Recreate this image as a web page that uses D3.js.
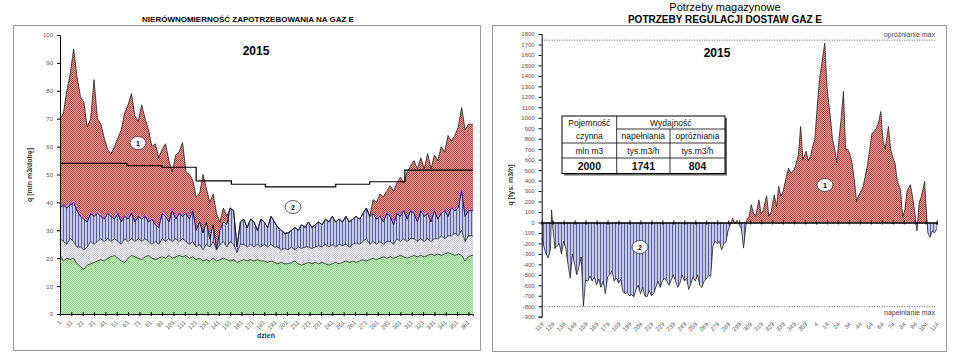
<!DOCTYPE html>
<html><head><meta charset="utf-8">
<script src="https://cdn.jsdelivr.net/npm/d3@7"></script>
<style>body{margin:0;background:#fff}svg{display:block;font-family:"Liberation Sans",Arial,sans-serif}</style>
</head><body><svg id="c" width="960" height="360"></svg>
<script>
// ---------- LEFT CHART DATA (every 3rd day, last = day 365) ----------
const leftDays = d3.range(1, 365, 3).concat([365]);
const demand = [
 70,72,80,86,95,85,78,76,67,70,
 84,70,68,63,59,57.5,60,63,66,72,
 75,79,71,69,75,70,66,60,61,56,
 59,61,55,51,57,58,61.5,51,50,48,
 42,43,50,45,40,43,36,33,38,35,
 38,37,24,33,34,31,34,33,30,34,
 33,31,35,33,31,30,29,29,30,31,
 30,32,31,33,31,32,33,32,34,33,
 35,33,34,33,35,33,34,35,34,36,
 38,35,41,40,43,42,44,46,44,47,
 49,47,51,53,55,52,56,52,57.5,52,
 57,55,60,58,64,62,64,67,74,66,
 68,68,68];
const blueTop = [
 38,39,38,39,40,37,35,34,33,36,
 35,36,35,34,36,35,34,36,33,35,
 34,36,33,35,34,35,33,34,32,31,
 36,35,33,37,34,36,35,36,34,37,
 30,33,29,33,27,32,23,30,33,32,
 38,37,24,33,34,31,34,33,30,34,
 33,31,35,33,31,30,29,29,30,31,
 30,32,31,33,31,32,33,32,34,33,
 35,33,34,33,35,33,34,35,34,36,
 38,35,36,34,35,33,36,35,32,36,
 35,37,34,37,36,33,37,35,36,33,
 37,34,36,37,35,38,37,38,44,35,
 37,37,37];
const greyTop = [
 27,26,25,27,26,24,24,23,24,26,
 25,26,27,26,27,26,27,26,25,27,
 26,27,26,27,26,27,26,25,26,25,
 27,26,27,26,27,26,27,26,25,26,
 24,25,23,25,24,26,23,25,26,24,
 26,25,22,25,25,24,25,24,25,24,
 25,24,25,24,24,23,23.5,23,24,23,
 24,23.5,24,24,23.5,24,24.5,24,25,24,
 25,24,25,24.5,25,24,25,25.5,25,26,
 27,25,26,25,26,25,26,26,25,27,
 26,27,26,27,27,26,27,26,27,26,
 27,27,28,27,28,28,29,28,30,26,
 28,28,28];
const greenTop = [
 21,19,20,19.5,20,18,17,16,17.5,18,
 18.5,19,19.5,19,20,20.5,21,20,19,18.5,
 20,21,20.5,20,19.5,20.5,21,20,19.5,20,
 20.5,20,21,20,20.5,21,20.5,21,20,20.5,
 19.5,20,19,19.5,19,20,19,19.5,20,19.5,
 19,19.5,18.5,19,19.5,19,19.5,19,19.5,19,
 19,18.5,19,18.5,18,18.5,18,18,18.5,19,
 18,17.5,18,18.5,18,18.5,18,18.5,18,17.5,
 18,18.5,18,18.5,19,18.5,19,18.5,19,19.5,
 19,19.5,20,19.5,20,20.5,20,20.5,20,20.5,
 21,20.5,20,20.5,21,20.5,21,20.5,21,21.5,
 21,21.5,21,21.5,22,21.5,21,21.5,21,19,
 20.5,21,21];
// monthly contracted supply (step line)
const monthStart = [1,32,60,91,121,152,182,213,244,274,305,335,365];
const monthSupply = [54,54,53.2,52.6,47.7,46.5,45.6,45.6,46.5,47.4,51.6,51.6,51.6];
const leftYTicks = [0,10,20,30,40,50,60,70,80,90,100];
const leftXTicks = [1,11,21,31,41,51,61,71,81,91,101,111,121,131,141,151,161,171,181,191,201,211,221,231,241,251,261,271,281,291,301,311,321,331,341,351,361];

// ---------- RIGHT CHART DATA ----------
const regDay = [
 0,2,4,6,8,9,10,12,14,16,
 18,20,22,24,26,28,30,32,34,36,
 38,40,42,44,46,48,50,52,54,56,
 58,60,62,64,66,68,70,72,74,76,
 78,80,82,84,86,88,90,92,94,96,
 98,100,102,104,106,108,110,112,114,116,
 118,120,122,124,126,128,130,132,134,136,
 138,140,142,144,146,148,150,152,154,156,
 158,160,162,164,166,168,170,172,174,176,
 178,180,182,184,186,187,189,191,193,195,
 198,200,202,205,207,209,212,214,216,218,
 220,223,225,227,230,232,234,236,238,241,
 243,245,247,249,251,253,255,258,260,261,
 263,265,267,269,271,273,275,277,279,281,
 283,285,287,289,291,293,295,297,299,301,
 303,305,307,309,311,313,316,318,320,322,
 324,327,329,331,333,336,338,340,342,344,
 346,349,350,352,354,356,358,360];
const regValue = [
 -150,-230,-300,-340,-250,120,-30,-250,-220,-200,
 -300,-180,-250,-400,-530,-300,-400,-500,-420,-330,
 -800,-550,-560,-510,-560,-520,-600,-540,-620,-560,
 -680,-520,-500,-460,-560,-530,-580,-540,-660,-680,
 -670,-700,-690,-710,-640,-600,-680,-620,-700,-710,
 -650,-700,-680,-620,-560,-620,-560,-530,-560,-600,
 -550,-500,-560,-620,-580,-500,-560,-530,-640,-580,
 -520,-560,-500,-600,-620,-560,-540,-500,-515,-230,
 -180,-200,-180,-260,-200,-185,-70,-20,40,-10,
 20,-20,-60,-245,-40,25,60,170,90,60,
 216,80,120,255,60,100,264,150,344,250,
 296,440,520,470,500,567,650,917,600,680,
 590,630,726,800,1092,1347,1500,1713,1300,1200,
 1012,800,700,567,800,1000,1251,694,700,646,
 560,400,200,260,300,344,450,550,700,853,
 870,900,949,1060,790,700,917,700,620,567,
 400,312,50,121,300,360,248,100,-80,185,
 250,392,200,-100,-140,-80,-100,-60];
const rightYTicks = [-900,-800,-700,-600,-500,-400,-300,-200,-100,0,100,200,300,400,500,600,700,800,900,1000,1100,1200,1300,1400,1500,1600,1700,1800];
const rightXTicks = d3.range(0, 361, 10);
const rightXLabels = [119,129,139,149,159,169,179,189,199,209,219,229,239,249,259,269,279,289,299,309,319,329,339,349,359,4,14,24,34,44,54,64,74,84,94,104,114];
const maxEmpty = 1741, maxFill = -804;
const tableHead = ["Pojemność","czynna","Wydajność","napełniania","opróżniania"];
const tableUnits = ["mln m3","tys.m3/h","tys.m3/h"];
const tableValues = ["2000","1741","804"];

// ---------- DRAW ----------
const svg = d3.select('#c');
const defs = svg.append('defs');
function checker(id, a, b){
  const p = defs.append('pattern').attr('id',id).attr('width',2).attr('height',2).attr('patternUnits','userSpaceOnUse');
  p.append('rect').attr('width',2).attr('height',2).attr('fill',b);
  p.append('rect').attr('width',1).attr('height',1).attr('fill',a);
  p.append('rect').attr('x',1).attr('y',1).attr('width',1).attr('height',1).attr('fill',a);
}
function stripes(id, dark, light, w){
  const p = defs.append('pattern').attr('id',id).attr('width',w).attr('height',4).attr('patternUnits','userSpaceOnUse');
  p.append('rect').attr('width',w).attr('height',4).attr('fill',light);
  p.append('rect').attr('width',1).attr('height',4).attr('fill',dark);
}
checker('pRed','#b84c4a','#eb9a94');
checker('pGreen','#8ed487','#c8f2c2');
checker('pGrey','#c8c8d6','#f4f4f8');
stripes('pBlue','#5c629e','#c6cae8',3);

// frames
svg.append('rect').attr('x',13.5).attr('y',25.5).attr('width',467).attr('height',325).attr('fill','#fff').attr('stroke','#9a9a9a');
svg.append('rect').attr('x',492.5).attr('y',25.5).attr('width',454).attr('height',326).attr('fill','#fff').attr('stroke','#9a9a9a');

// ===== LEFT =====
const xL = d3.scaleLinear([1,365],[60,473]);
const yL = d3.scaleLinear([0,100],[314,35]);
const gL = svg.append('g');
const areaL = d3.area().x((d,i)=>xL(leftDays[i])).y0(yL(0)).y1(d=>yL(d));
const lineL = d3.line().x((d,i)=>xL(leftDays[i])).y(d=>yL(d));
gL.append('path').datum(demand).attr('d',areaL).attr('fill','url(#pRed)');
gL.append('path').datum(blueTop).attr('d',areaL).attr('fill','url(#pBlue)');
gL.append('path').datum(greyTop).attr('d',areaL).attr('fill','url(#pGrey)');
gL.append('path').datum(greenTop).attr('d',areaL).attr('fill','url(#pGreen)');
// pink band along the blue top in heating season
gL.append('path').datum(blueTop).attr('d', d3.line().defined((d,i)=>leftDays[i]<=118||leftDays[i]>=280).x((d,i)=>xL(leftDays[i])).y(d=>yL(d)-1.2))
  .attr('fill','none').attr('stroke','#c868d8').attr('stroke-width',1.3);
gL.append('path').datum(greenTop).attr('d',lineL).attr('fill','none').attr('stroke','#1c301c').attr('stroke-width',0.8);
gL.append('path').datum(greyTop).attr('d',lineL).attr('fill','none').attr('stroke','#2a2a44').attr('stroke-width',0.8);
gL.append('path').datum(blueTop).attr('d',lineL).attr('fill','none').attr('stroke','#1a1a50').attr('stroke-width',1);
gL.append('path').datum(demand).attr('d',lineL).attr('fill','none').attr('stroke','#202020').attr('stroke-width',0.8);
gL.append('path').datum(monthSupply).attr('d', d3.line().curve(d3.curveStepAfter).x((d,i)=>xL(monthStart[i])).y(d=>yL(d)))
  .attr('fill','none').attr('stroke','#000').attr('stroke-width',1.2);
// axes
const ayL = gL.append('g').attr('transform','translate(60,0)').call(d3.axisLeft(yL).tickValues(leftYTicks).tickSize(3).tickPadding(4).tickFormat(d=>String(d)));
const axL = gL.append('g').attr('transform','translate(0,314)').call(d3.axisBottom(xL).tickValues(leftXTicks).tickSize(2).tickFormat((d,i)=>String(leftXTicks[i])));
axL.selectAll('.tick line').attr('y1',-2).attr('y2',2);
axL.selectAll('.tick text').attr('y',0).attr('dy',0).attr('text-anchor','end').attr('transform','translate(1,9) rotate(-45)');
[ayL,axL].forEach(a=>{a.selectAll('text').attr('font-size',6).attr('fill','#555').attr('font-family','Liberation Sans, Arial');a.select('.domain').attr('stroke','#000');a.selectAll('.tick line').attr('stroke','#000');});
// texts
svg.append('text').attr('x',248).attr('y',22).attr('text-anchor','middle').attr('font-size',8).attr('font-weight','bold').text('NIERÓWNOMIERNOŚĆ ZAPOTRZEBOWANIA NA GAZ E');
svg.append('text').attr('x',256).attr('y',55).attr('text-anchor','middle').attr('font-size',12).attr('font-weight','bold').text('2015');
svg.append('text').attr('x',266).attr('y',338).attr('text-anchor','middle').attr('font-size',7).attr('font-weight','bold').attr('fill','#333').text('dzień');
svg.append('text').attr('transform','translate(32,175) rotate(-90)').attr('text-anchor','middle').attr('font-size',7).attr('font-weight','bold').attr('fill','#333').text('q [mln m3/dobę]');
function badge(x,y,t){
  svg.append('ellipse').attr('cx',x).attr('cy',y).attr('rx',8).attr('ry',6.5).attr('fill','#fff').attr('stroke','#333').attr('stroke-width',0.8);
  svg.append('text').attr('x',x).attr('y',y+2.5).attr('text-anchor','middle').attr('font-size',7).attr('font-weight','bold').text(t);
}
badge(138,143,'1');
badge(293,207,'2');

// ===== RIGHT =====
const xR = d3.scaleLinear([0,360],[541.7,936.7]);
const yR = d3.scaleLinear([-900,1800],[316.7,34]);
const gR = svg.append('g');
defs.append('clipPath').attr('id','cPos').append('rect').attr('x',530).attr('y',0).attr('width',420).attr('height',yR(0));
defs.append('clipPath').attr('id','cNeg').append('rect').attr('x',530).attr('y',yR(0)).attr('width',420).attr('height',200);
const areaR = d3.area().x((d,i)=>xR(regDay[i])).y0(yR(0)).y1(d=>yR(d));
gR.append('path').datum(regValue).attr('d',areaR).attr('fill','url(#pRed)').attr('clip-path','url(#cPos)');
gR.append('path').datum(regValue).attr('d',areaR).attr('fill','url(#pBlue)').attr('clip-path','url(#cNeg)');
gR.append('path').datum(regValue).attr('d',d3.line().x((d,i)=>xR(regDay[i])).y(d=>yR(d))).attr('fill','none').attr('stroke','#222').attr('stroke-width',0.8);
// max lines
[maxEmpty,maxFill].forEach(v=>gR.append('line').attr('x1',541.7).attr('x2',936.7).attr('y1',yR(v)).attr('y2',yR(v)).attr('stroke','#333').attr('stroke-width',0.8).attr('stroke-dasharray','1,1.5'));
svg.append('text').attr('x',935).attr('y',yR(maxEmpty)-3).attr('text-anchor','end').attr('font-size',7).attr('fill','#444').text('opróżnianie max');
svg.append('text').attr('x',935).attr('y',yR(maxFill)+8).attr('text-anchor','end').attr('font-size',7).attr('fill','#444').text('napełnianie max');
// zero axis
const axR = gR.append('g').attr('transform',`translate(0,${yR(0)})`).call(d3.axisBottom(xR).tickValues(rightXTicks).tickSize(2).tickFormat(''));
axR.selectAll('.tick line').attr('y1',-2).attr('y2',2).attr('stroke','#000');
axR.select('.domain').attr('stroke','#000').attr('stroke-width',1.5);
const axR2 = gR.append('g').attr('transform',`translate(0,${yR(-900)})`).call(d3.axisBottom(xR).tickValues(rightXTicks).tickSize(0).tickFormat((d,i)=>String(rightXLabels[i])));
axR2.select('.domain').remove();
axR2.selectAll('.tick text').attr('y',0).attr('dy',0).attr('text-anchor','end').attr('transform','translate(2,8) rotate(-45)').attr('font-size',6).attr('fill','#555');
const ayR = gR.append('g').attr('transform','translate(541.7,0)').call(d3.axisLeft(yR).tickValues(rightYTicks).tickSize(3).tickPadding(4).tickFormat(d=>String(d)));
ayR.selectAll('text').attr('font-size',6).attr('fill','#555');
ayR.select('.domain').attr('stroke','#000');
ayR.selectAll('.tick line').attr('stroke','#000');
svg.append('text').attr('x',725).attr('y',11).attr('text-anchor','middle').attr('font-size',11).text('Potrzeby magazynowe');
svg.append('text').attr('x',725).attr('y',23).attr('text-anchor','middle').attr('font-size',10).attr('font-weight','bold').text('POTRZEBY REGULACJI DOSTAW GAZ E');
svg.append('text').attr('x',717).attr('y',57).attr('text-anchor','middle').attr('font-size',12).attr('font-weight','bold').text('2015');
svg.append('text').attr('transform','translate(513,185) rotate(-90)').attr('text-anchor','middle').attr('font-size',7).attr('font-weight','bold').attr('fill','#333').text('q [tys. m3/h]');
badge(825,185,'1');
badge(640,247,'2');

// table
const T = {x0:562, x1:616.7, x2:670, x3:725, y0:116, y1:129, y2:143, y3:158, y4:173.5};
const gt = svg.append('g');
gt.append('rect').attr('x',T.x0+2).attr('y',T.y0+2).attr('width',T.x3-T.x0).attr('height',T.y4-T.y0).attr('fill','#666');
gt.append('rect').attr('x',T.x0).attr('y',T.y0).attr('width',T.x3-T.x0).attr('height',T.y4-T.y0).attr('fill','#fff').attr('stroke','#000').attr('stroke-width',1);
const tl = (x1,y1,x2,y2)=>gt.append('line').attr('x1',x1).attr('y1',y1).attr('x2',x2).attr('y2',y2).attr('stroke','#000').attr('stroke-width',0.8);
tl(T.x1,T.y0,T.x1,T.y4); tl(T.x2,T.y1,T.x2,T.y4);
tl(T.x1,T.y1,T.x3,T.y1); tl(T.x0,T.y2,T.x3,T.y2); tl(T.x0,T.y3,T.x3,T.y3);
const tt = (x,y,s,t,b)=>gt.append('text').attr('x',x).attr('y',y).attr('text-anchor','middle').attr('font-size',s).attr('font-weight',b?'bold':'normal').attr('fill','#111').text(t);
const c0=(T.x0+T.x1)/2, c1=(T.x1+T.x2)/2, c2=(T.x2+T.x3)/2;
tt(c0,125.5,8.5,tableHead[0]); tt(c0,139,8.5,tableHead[1]);
tt((T.x1+T.x3)/2,125.5,8.5,tableHead[2]); tt(c1,139,8.5,tableHead[3]); tt(c2,139,8.5,tableHead[4]);
tt(c0,153.5,8.5,tableUnits[0]); tt(c1,153.5,8.5,tableUnits[1]); tt(c2,153.5,8.5,tableUnits[2]);
tt(c0,169.5,10.5,tableValues[0],true); tt(c1,169.5,10.5,tableValues[1],true); tt(c2,169.5,10.5,tableValues[2],true);
</script>
</body></html>
